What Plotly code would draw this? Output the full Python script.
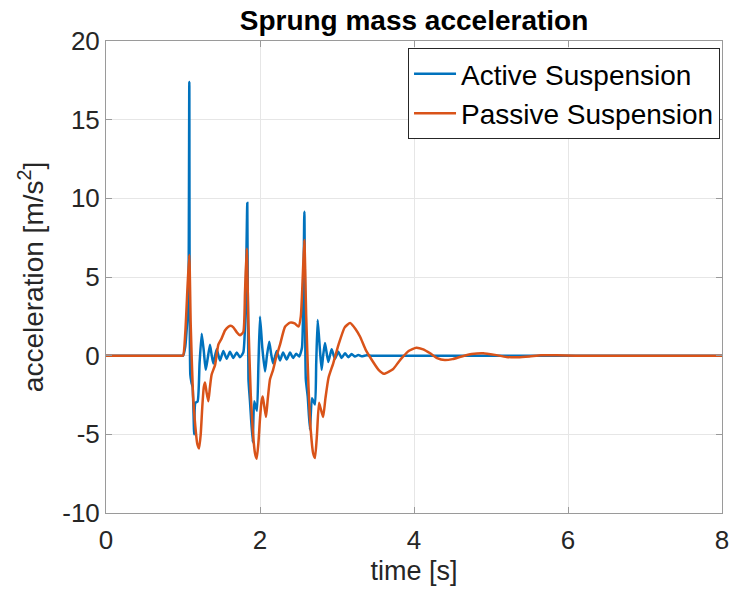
import plotly.graph_objects as go

# Active suspension (time [s], acceleration [m/s^2])
t_active = [0, 0.5, 0.95, 1.00, 1.03, 1.055, 1.07, 1.082, 1.095, 1.11, 1.125, 1.145, 1.16, 1.19,
            1.215, 1.243, 1.27, 1.295, 1.32, 1.35, 1.37, 1.394, 1.437, 1.48, 1.524,
            1.567, 1.61, 1.653, 1.697, 1.74, 1.783, 1.81, 1.835, 1.85, 1.87, 1.905,
            1.925, 1.96, 1.98, 2.00, 2.03, 2.065, 2.09, 2.12, 2.145, 2.17, 2.217,
            2.26, 2.30, 2.346, 2.39, 2.43, 2.47, 2.51, 2.545, 2.576, 2.595, 2.62,
            2.649, 2.675, 2.714, 2.73, 2.749, 2.775, 2.80, 2.82, 2.844, 2.887, 2.93,
            2.974, 3.017, 3.06, 3.104, 3.147, 3.19, 3.234, 3.277, 3.32, 3.385, 3.45,
            3.6, 4.5, 6.0, 7.0, 8.0]
a_active = [0, 0, 0, 0, 0.6, 2.2, 3.5, 17.4, -1.2, -1.7, -2.0, -5.0, -3.0, -2.9,
            -0.5, 1.4, 0.3, -0.9, -0.2, 0.7, 0.1, -0.5, 0.4, -0.3, 0.3,
            -0.2, 0.25, -0.15, 0.2, -0.1, 0.2, 2.5, 9.7, -1.5, -2.9, -5.5,
            -2.9, -3.5, -0.5, 2.48, 0.5, -1.0, 0.0, 0.89, 0.1, -0.5, 0.3,
            -0.3, 0.2, -0.25, 0.2, -0.15, 0.12, -0.05, 0.5, 9.15, -1.5, -2.6,
            -4.7, -2.7, -3.1, -0.5, 2.27, 0.6, -0.9, 0.0, 0.8, -0.4, 0.4,
            -0.2, 0.25, -0.15, 0.15, -0.1, 0.1, -0.06, 0.05, -0.04, 0.03, 0,
            0, 0, 0, 0, 0]

# Passive suspension
t_passive = [0, 0.5, 0.95, 1.00, 1.03, 1.06, 1.082, 1.10, 1.13, 1.16, 1.185, 1.208, 1.23, 1.25,
             1.27, 1.286, 1.305, 1.329, 1.35, 1.372, 1.416, 1.459, 1.502, 1.545,
             1.589, 1.62, 1.654, 1.697, 1.74, 1.783, 1.805, 1.827, 1.85, 1.88, 1.91,
             1.935, 1.957, 1.98, 2.00, 2.02, 2.035, 2.055, 2.078, 2.10, 2.13, 2.17,
             2.21, 2.26, 2.325, 2.39, 2.45, 2.50, 2.53, 2.555, 2.576, 2.60, 2.63,
             2.66, 2.69, 2.714, 2.74, 2.766, 2.79, 2.82, 2.85, 2.89, 2.95, 3.02,
             3.10, 3.17, 3.24, 3.30, 3.37, 3.43, 3.54, 3.61, 3.68, 3.73, 3.80, 3.86,
             3.93, 4.03, 4.12, 4.21, 4.30, 4.40, 4.50, 4.62, 4.75, 4.90, 5.05, 5.20,
             5.35, 5.50, 5.65, 5.85, 6.10, 6.5, 7.0, 7.5, 8.0]
a_passive = [0, 0, 0, 0, 1.5, 4.5, 6.4, 2.0, -2.5, -4.5, -5.6, -5.9, -5.0, -3.3,
             -2.0, -1.7, -2.3, -2.9, -2.0, -1.2, -0.6, 0.7, 1.1, 1.6,
             1.84, 1.9, 1.8, 1.5, 1.3, 1.5, 4.0, 6.8, 2.0, -2.5, -5.0,
             -6.2, -6.55, -5.5, -4.0, -2.9, -2.6, -3.2, -3.9, -2.8, -1.5, -0.9,
             -0.1, 0.7, 1.84, 2.1, 2.05, 1.85, 2.5, 5.0, 7.35, 2.5, -2.0,
             -4.8, -6.2, -6.5, -5.0, -3.0, -3.4, -3.9, -2.7, -1.4, -0.5, 0.7,
             1.8, 2.08, 1.7, 1.2, 0.4, -0.1, -0.9, -1.15, -1.0, -0.85, -0.4, -0.05,
             0.3, 0.51, 0.4, 0.15, -0.15, -0.28, -0.22, -0.05, 0.1, 0.15, 0.05, -0.08,
             -0.1, -0.05, 0.02, 0.03, 0, 0, 0, 0, 0]

x_ticks = [0, 2, 4, 6, 8]
y_ticks = [-10, -5, 0, 5, 10, 15, 20]
y_ticktext = ["-10", "-5", "0", "5", "10", "15", "20"]

FONT = "Liberation Sans, Arial, Helvetica, sans-serif"
TXT = "#262626"

fig = go.Figure()
fig.add_trace(go.Scatter(x=t_active, y=a_active, mode="lines", name="Active Suspension",
                         line=dict(color="#0072BD", width=2.5, shape="spline", smoothing=0.5)))
fig.add_trace(go.Scatter(x=t_passive, y=a_passive, mode="lines", name="Passive Suspension",
                         line=dict(color="#D95319", width=2.5, shape="spline", smoothing=0.5)))

axis_common = dict(showgrid=True, gridcolor="#e6e6e6", gridwidth=1,
                   showline=True, linecolor="#9a9a9a", linewidth=1, mirror="ticks",
                   ticks="inside", ticklen=6, tickcolor="#9a9a9a", automargin=False,
                   tickfont=dict(family=FONT, size=26, color=TXT), zeroline=False)

fig.update_layout(
    width=730, height=595,
    margin=dict(l=106, r=8, t=41, b=82, autoexpand=False),
    paper_bgcolor="white", plot_bgcolor="white",
    title=dict(text="<b>Sprung mass acceleration</b>", x=0.5, xref="paper", xanchor="center",
               y=1 - 20 / 595, yanchor="middle", automargin=False,
               font=dict(family=FONT, size=28, color="black")),
    xaxis=dict(range=[0, 8], tickvals=x_ticks, ticklabelstandoff=4,
               title=dict(text="time [s]", font=dict(family=FONT, size=27, color=TXT), standoff=6),
               **axis_common),
    yaxis=dict(range=[-10, 20], tickvals=y_ticks, ticktext=y_ticktext,
               title=dict(text="acceleration [m/s<sup>2</sup>]", font=dict(family=FONT, size=28, color=TXT),
                          standoff=10),
               **axis_common),
    legend=dict(x=0.9968, y=0.985, xanchor="right", yanchor="top",
                bgcolor="white", bordercolor="#262626", borderwidth=1,
                font=dict(family=FONT, size=28, color="black"),
                itemwidth=42, tracegroupgap=0),
    showlegend=True,
)

fig.write_html("out.html")
